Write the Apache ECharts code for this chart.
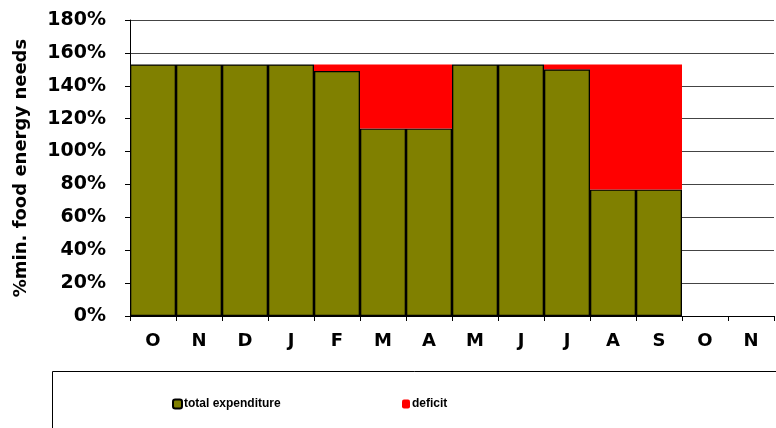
<!DOCTYPE html>
<html>
<head>
<meta charset="utf-8">
<script src="https://cdn.jsdelivr.net/npm/echarts@6/dist/echarts.min.js"></script>
<style>html,body{margin:0;padding:0;background:#fff}#c{width:776px;height:428px}</style>
</head>
<body>
<div id="c"></div>
<script>
const categories = ['O','N','D','J','F','M','A','M','J','J','A','S','O','N'];
const totalExpenditure = [153,153,153,153,149,114,114,153,153,150,77,77,null,null];
const deficit = [0,0,0,0,4,39,39,0,0,3,76,76,null,null];
const yTicks = [0,20,40,60,80,100,120,140,160,180];

const chart = echarts.init(document.getElementById('c'));
const font = 'Liberation Sans, Arial, sans-serif';
const wide = 'DejaVu Sans, sans-serif';
chart.setOption({
  animation: false,
  backgroundColor: '#fff',
  graphic: [{
    type: 'rect', left: 52, top: 371, z: -1,
    shape: { width: 740, height: 80 },
    style: { fill: '#fff', stroke: '#000', lineWidth: 1 }
  }],
  legend: [{
    data: ['total expenditure'], left: 167, top: 393,
    itemWidth: 9, itemHeight: 9, itemGap: 0,
    textStyle: { fontFamily: font, fontWeight: 'bold', fontSize: 12, color: '#000', padding: [0,0,0,-3] }
  }, {
    data: ['deficit'], left: 397, top: 393,
    itemWidth: 8, itemHeight: 9, itemGap: 0,
    textStyle: { fontFamily: font, fontWeight: 'bold', fontSize: 12, color: '#000', padding: [0,0,0,-3] }
  }],
  grid: { left: 130, right: 2, top: 20, bottom: 112, containLabel: false },
  xAxis: {
    type: 'category', data: categories,
    axisLine: { lineStyle: { color: '#000', width: 1 } },
    axisTick: { show: true, alignWithLabel: false, length: 5, lineStyle: { color: '#000' } },
    axisLabel: { fontFamily: wide, fontWeight: 'bold', fontSize: 18, color: '#000', margin: 16 }
  },
  yAxis: {
    type: 'value', min: 0, max: 180, interval: 20,
    name: '%min. food energy needs', nameLocation: 'middle', nameGap: 100,
    nameTextStyle: { fontFamily: wide, fontWeight: 'bold', fontSize: 18, color: '#000' },
    axisLine: { show: true, lineStyle: { color: '#000', width: 1 } },
    axisTick: { show: true, length: 5, lineStyle: { color: '#000' } },
    axisLabel: { fontFamily: wide, fontWeight: 'bold', fontSize: 19, color: '#000', margin: 24,
      formatter: v => yTicks.includes(v) ? v + '%' : '' },
    splitLine: { show: true, lineStyle: { color: '#444', width: 1.2 } }
  },
  series: [{
    name: 'total expenditure', type: 'bar', stack: 's', data: totalExpenditure,
    barCategoryGap: 0, barGap: 0,
    itemStyle: { color: '#808000', borderColor: '#000', borderWidth: 1.3 }
  }, {
    name: 'deficit', type: 'bar', stack: 's', data: deficit,
    barCategoryGap: 0, barGap: 0,
    itemStyle: { color: '#ff0000', borderWidth: 0 }
  }]
});
</script>
</body>
</html>
